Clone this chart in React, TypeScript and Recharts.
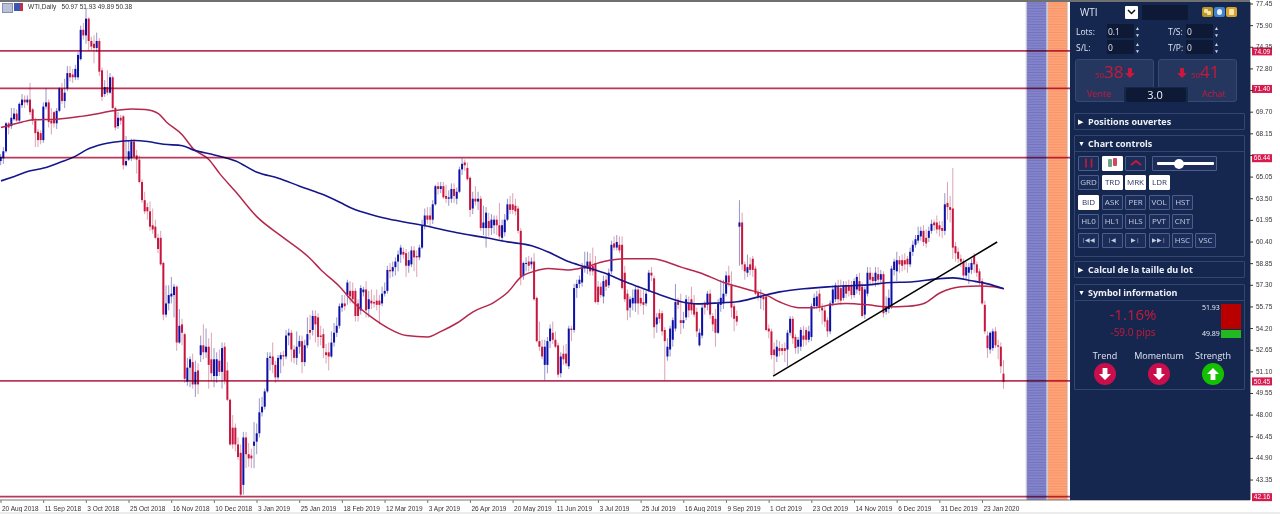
import {
  Bar,
  ComposedChart,
  Line,
  ReferenceArea,
  ReferenceLine,
  XAxis,
  YAxis,
} from "recharts";

const opens = [
  66.2,66.4,66.9,68.9,68.7,69.2,69.6,69.1,70.2,70.6,
  70.4,70.6,69.9,69.1,68.3,68.2,67.7,70.1,70.4,69.1,
  69.7,68.9,69.8,71.4,70.5,71.4,72.5,72.4,72.2,72.2,
  73.5,75.6,75.2,76.4,74.8,74.6,74.3,74.8,72.7,71.0,
  71.5,71.1,72.2,70.0,68.7,69.3,69.4,65.9,66.3,66.4,
  67.6,66.6,66.3,64.7,63.4,62.9,62.6,61.6,61.5,60.7,
  60.7,58.9,55.2,56.0,56.5,56.6,57.2,53.2,54.5,53.8,
  50.4,51.4,51.8,50.2,51.2,52.3,53.0,52.5,52.9,52.0,
  50.8,50.8,51.9,51.1,52.9,51.2,49.1,47.1,47.1,45.9,
  45.3,43.0,46.4,45.2,45.1,45.8,46.1,46.7,48.2,48.6,
  49.7,52.1,52.2,51.6,50.7,52.0,52.3,52.2,53.7,53.9,
  52.7,52.1,52.9,53.3,51.8,53.0,54.1,54.1,55.1,55.0,
  53.7,53.8,52.5,52.5,52.2,53.2,53.9,54.4,55.7,56.0,
  56.6,56.9,56.9,56.9,56.0,55.5,56.8,57.0,55.6,56.2,
  56.1,56.2,56.2,56.0,56.7,56.9,58.4,58.3,58.6,59.0,
  59.5,59.7,59.6,58.7,58.8,59.8,59.4,59.3,60.0,61.6,
  62.3,62.3,62.0,63.1,64.4,64.2,64.4,63.7,63.5,63.5,
  64.2,63.5,64.0,65.6,66.1,65.7,65.0,62.8,63.5,63.3,
  63.5,61.4,61.4,61.9,61.4,61.6,62.0,61.6,60.7,61.1,
  62.0,63.1,63.1,63.0,62.8,61.2,58.0,58.9,59.0,58.8,
  59.0,56.4,53.3,52.9,51.6,51.6,53.3,53.9,53.4,53.0,
  51.0,52.4,52.4,51.5,54.2,54.1,57.1,57.4,57.5,58.5,
  58.5,59.0,58.7,58.9,57.2,57.2,56.5,57.7,57.3,58.3,
  60.3,60.0,60.2,60.2,58.2,56.7,55.7,56.0,56.0,57.0,
  56.4,56.1,56.0,56.9,58.2,57.8,54.5,55.3,55.3,54.1,
  52.2,52.7,53.4,54.2,56.1,54.8,54.6,55.0,56.0,56.3,
  56.0,55.4,53.0,53.7,56.0,55.9,56.7,55.1,54.9,53.9,
  55.9,56.0,56.7,58.0,57.3,55.8,55.1,61.5,61.8,58.8,
  58.2,58.8,59.2,58.5,56.8,56.4,56.5,56.5,54.2,54.0,
  52.7,52.2,52.8,52.8,52.8,52.7,53.9,54.9,53.6,52.9,
  52.9,53.7,54.1,53.4,53.6,55.8,55.8,56.7,55.7,55.5,
  54.8,54.0,56.0,56.3,57.2,57.1,56.4,57.3,57.3,57.3,
  56.6,57.0,57.6,57.2,55.2,56.7,58.2,57.9,57.6,58.1,
  57.7,58.1,55.4,55.6,55.8,58.4,58.3,59.1,59.1,59.1,
  59.2,58.8,59.7,60.2,60.5,60.8,61.2,60.7,60.7,61.2,
  61.8,61.8,61.6,61.4,61.2,63.2,62.9,62.8,60.1,59.7,
  59.2,59.0,58.0,58.2,58.4,59.4,58.8,58.3,57.6,55.9,
  53.7,52.7,52.8,54.0,53.0,52.9,50.97,
];

const closes = [
  66.5,66.9,68.9,68.6,69.3,69.6,69.1,70.3,70.6,70.4,
  70.6,69.7,69.1,68.2,67.7,67.7,70.1,70.4,69.0,68.9,
  68.9,69.8,71.4,70.5,71.1,72.5,72.2,72.2,72.8,73.8,
  75.6,75.2,76.4,74.8,74.4,74.3,74.8,72.6,70.8,71.5,
  71.1,72.2,70.0,68.6,69.3,69.1,65.9,66.2,66.9,67.6,
  66.5,66.3,64.7,63.4,62.6,62.6,61.5,61.3,60.7,59.9,
  58.8,55.2,56.0,56.6,56.7,57.2,53.2,54.4,53.9,50.6,
  51.4,52.0,50.2,51.1,50.2,53.0,52.5,52.9,51.6,51.0,
  52.0,52.0,51.1,52.8,50.5,49.1,45.9,45.9,45.9,45.0,
  42.3,46.4,45.2,44.9,44.9,46.1,46.7,48.2,48.6,49.7,
  52.1,52.2,51.6,50.7,52.1,52.3,52.2,53.7,53.9,52.7,
  52.1,52.9,53.3,51.8,53.0,53.8,53.9,55.1,54.5,53.6,
  53.6,52.8,52.3,52.2,53.2,53.9,54.4,55.8,56.0,55.8,
  57.5,56.5,56.3,55.1,55.1,57.1,57.0,55.5,56.3,56.0,
  56.0,55.9,55.9,56.7,56.9,58.4,58.3,58.6,59.0,59.5,
  60.0,59.5,58.7,59.1,59.8,59.3,59.3,60.0,61.6,62.3,
  62.0,62.0,63.1,64.4,64.2,64.4,63.6,63.5,63.6,64.2,
  63.7,64.0,65.6,66.0,65.9,64.9,62.7,63.5,63.3,63.5,
  61.4,61.8,62.5,61.4,62.0,62.0,61.6,60.8,61.6,62.0,
  63.1,62.7,62.7,62.6,61.2,57.9,58.9,58.9,58.7,59.0,
  56.3,53.3,52.9,52.2,52.9,53.3,54.2,53.4,52.9,50.9,
  52.2,52.0,51.7,54.2,54.1,57.1,57.4,57.7,58.6,58.7,
  59.0,58.3,58.3,56.1,56.1,56.6,57.6,57.2,58.2,60.2,
  60.0,60.4,59.8,57.1,56.3,55.5,56.3,56.4,57.0,56.0,
  56.0,55.9,56.7,58.2,58.0,54.3,55.0,54.9,54.0,53.3,
  52.9,54.2,54.8,56.1,55.9,54.6,54.8,56.3,55.5,55.5,
  55.2,54.0,53.9,55.7,55.7,56.7,55.2,54.5,53.9,56.0,
  56.4,56.7,58.0,57.5,55.7,54.9,54.7,61.8,58.8,58.3,
  58.6,58.4,58.4,56.7,56.5,56.5,56.3,54.1,54.0,52.3,
  52.3,52.9,52.6,52.6,52.6,53.9,54.9,53.5,52.8,53.4,
  54.1,53.4,53.4,54.0,55.8,56.4,56.5,55.7,55.5,54.7,
  54.0,56.0,57.0,57.3,56.3,56.2,57.3,56.7,56.9,56.6,
  57.6,57.9,56.9,55.1,57.0,58.2,57.7,57.6,58.2,57.7,
  58.1,55.3,55.8,56.4,58.5,59.0,59.1,58.8,58.7,58.8,
  58.8,59.7,60.2,60.6,60.9,61.2,60.4,60.3,61.2,61.7,
  61.6,61.3,61.3,61.2,63.1,62.9,62.7,60.0,59.6,59.2,
  59.0,58.0,58.6,58.6,58.9,58.8,58.2,57.6,56.0,54.0,
  52.8,53.9,54.0,53.0,52.9,51.5,50.38,
];

const highs = [
  66.7,67.2,69.0,69.0,70.0,70.0,69.9,70.4,71.0,70.9,
  70.9,71.8,70.0,69.3,68.5,68.4,70.4,71.4,70.6,70.0,
  69.8,70.0,71.5,71.8,72.1,73.0,73.0,72.8,73.1,74.0,
  75.9,76.1,77.1,76.5,75.1,75.2,75.4,75.0,72.9,72.0,
  72.7,72.5,72.3,70.1,69.7,69.5,69.5,68.0,67.7,67.8,
  67.8,67.0,66.6,64.9,64.0,63.2,63.3,62.8,62.0,61.0,
  61.2,59.0,57.3,57.3,57.9,57.4,57.3,55.6,54.9,53.9,
  52.1,52.2,52.4,51.9,51.7,53.7,54.5,54.2,53.5,53.9,
  52.8,52.5,52.7,53.2,53.2,51.8,49.2,48.0,47.4,46.4,
  45.9,46.8,46.8,46.0,45.6,47.5,47.4,49.2,49.3,49.9,
  52.5,52.5,53.2,51.9,52.3,52.5,52.6,54.1,54.2,54.1,
  53.0,54.0,53.7,53.7,53.4,55.0,55.2,55.5,55.5,55.3,
  54.4,54.2,53.1,53.2,54.0,54.6,55.0,56.0,56.6,56.6,
  57.7,57.6,57.5,57.1,56.3,57.3,57.2,57.6,56.9,57.0,
  56.6,57.0,56.6,57.2,57.5,58.7,58.9,59.0,59.3,59.8,
  60.2,60.0,59.9,59.7,60.1,60.1,59.8,60.2,62.0,62.8,
  62.9,62.9,63.4,64.5,64.7,64.7,64.7,64.5,64.1,64.6,
  64.6,64.3,65.8,66.4,66.3,66.1,65.1,64.0,64.4,64.0,
  63.7,63.0,62.9,62.5,62.4,62.3,62.3,63.2,62.0,62.4,
  63.5,63.7,63.9,63.5,63.0,61.4,59.0,59.3,59.4,59.3,
  59.6,56.5,54.7,53.4,53.4,53.6,54.5,54.7,54.0,53.2,
  52.5,53.0,53.1,54.4,54.4,57.4,57.7,58.0,58.9,59.7,
  59.7,59.6,60.0,59.4,57.6,57.5,58.0,58.0,58.5,60.5,
  60.8,60.9,60.8,60.8,58.7,57.0,56.5,57.0,57.2,57.3,
  57.0,57.0,56.9,58.4,58.6,58.0,55.3,55.6,55.5,54.3,
  53.5,54.4,55.0,57.4,56.4,56.7,55.4,56.6,56.5,57.2,
  56.6,55.7,54.2,56.0,56.2,56.9,57.0,55.3,55.6,56.3,
  57.7,57.7,58.3,58.7,58.3,56.0,55.5,63.4,62.5,59.0,
  59.5,59.3,59.4,58.7,57.0,57.0,56.7,56.7,54.5,54.2,
  53.2,53.4,53.3,53.1,53.2,54.1,55.1,55.1,53.8,53.6,
  54.3,54.4,54.3,54.4,56.0,56.7,56.9,57.0,56.0,55.8,
  55.0,56.2,57.3,57.5,57.7,57.7,57.6,57.6,57.7,57.6,
  57.8,58.1,58.2,57.5,57.2,58.6,58.6,58.2,58.6,58.6,
  58.4,58.3,56.5,57.0,58.7,59.2,59.7,59.4,59.5,59.6,
  59.4,60.0,60.5,60.9,61.5,61.5,61.6,61.3,61.5,62.0,
  62.0,62.3,61.9,61.9,63.9,64.7,63.7,65.7,60.4,60.0,
  59.5,59.2,59.0,58.9,59.2,59.6,59.0,58.5,57.8,56.2,
  54.0,54.0,54.2,54.3,53.4,53.2,51.93,
];

const lows = [
  65.9,66.0,66.8,68.1,68.5,69.1,69.0,69.0,70.0,70.0,
  70.2,69.5,68.8,67.2,67.2,67.4,67.5,69.9,68.6,68.1,
  68.6,68.5,69.7,70.3,70.0,71.2,71.9,71.8,72.0,72.0,
  73.4,74.9,74.6,74.1,74.1,73.2,74.0,72.3,70.5,70.8,
  70.9,71.0,69.9,68.4,68.5,68.8,65.6,65.8,66.2,66.2,
  66.3,65.3,64.6,63.2,62.4,62.0,61.2,61.0,60.6,59.6,
  58.7,54.8,55.0,55.5,56.0,55.0,52.6,53.1,53.0,50.3,
  50.1,50.0,49.9,49.3,49.5,51.8,52.0,52.1,49.9,50.4,
  50.0,50.3,50.8,49.9,50.2,49.0,45.8,45.6,45.4,44.8,
  42.2,42.3,44.2,44.3,44.2,44.2,45.2,46.4,47.9,48.4,
  49.6,51.2,51.0,50.3,50.5,51.0,51.5,52.0,53.0,51.8,
  51.7,51.6,52.4,51.0,51.5,52.8,53.4,53.7,53.2,52.9,
  53.0,52.1,51.7,51.2,52.1,52.9,53.6,54.2,55.4,55.5,
  55.9,56.0,56.0,54.7,54.7,55.2,56.5,55.0,55.0,55.6,
  55.7,55.5,54.5,55.8,56.5,56.7,57.8,57.9,58.0,58.3,
  58.9,59.2,57.9,58.2,58.6,58.3,57.9,59.1,59.9,61.3,
  61.7,61.5,61.7,63.0,63.8,63.9,63.5,63.2,63.0,63.2,
  63.2,63.1,63.9,65.2,65.5,64.8,62.2,62.4,63.0,62.7,
  61.2,60.9,60.0,60.8,60.9,61.0,60.9,60.6,60.4,60.8,
  61.9,62.4,62.4,62.3,61.0,57.3,57.7,58.3,58.3,58.5,
  56.2,53.2,52.6,52.0,50.5,51.0,52.8,53.1,52.8,50.7,
  50.7,51.6,51.5,51.3,53.3,53.9,56.4,57.1,57.2,58.2,
  58.1,58.0,58.0,56.0,55.9,56.4,56.0,56.9,57.1,58.1,
  59.8,59.8,59.6,57.0,56.1,54.8,55.0,55.5,55.4,55.2,
  55.8,55.2,55.8,56.8,57.6,53.5,53.9,54.6,53.7,50.5,
  51.9,52.2,52.9,54.0,55.6,53.8,54.2,54.8,55.0,55.2,
  55.0,53.6,52.9,53.5,55.2,55.5,54.9,54.0,52.9,53.8,
  55.4,55.6,56.5,57.2,55.0,54.0,54.4,58.7,58.4,57.7,
  57.9,58.0,57.9,56.6,56.2,55.6,55.5,54.0,53.5,52.0,
  50.9,51.8,52.2,52.3,51.8,51.5,53.7,53.1,52.4,52.4,
  52.6,52.9,53.0,53.2,53.3,55.6,55.6,55.4,54.5,54.3,
  53.6,53.8,55.8,56.1,56.0,55.9,56.2,56.4,56.5,56.3,
  56.4,56.7,56.6,55.0,54.9,56.5,57.4,57.3,57.2,57.3,
  57.4,55.0,55.2,55.3,55.6,58.0,57.6,58.2,58.3,58.4,
  58.2,58.6,59.4,60.0,60.3,60.5,60.1,60.0,60.4,61.0,
  61.2,61.0,60.8,60.7,60.9,62.0,61.8,59.2,59.0,58.9,
  58.6,57.8,57.7,57.4,58.1,58.2,57.9,57.3,55.9,53.8,
  52.1,52.4,52.6,52.8,52.0,51.0,49.89,
];

// moving averages, read at the bars where the curve bends
const maRedBars = [0,4,8,12,21,30,35,42,49,54,59,62,68,72,78,82,88,96,106,116,120,127,132,139,145,152,160,165,171,177,185,190,195,200,205,213,219,226,234,244,255,262,271,280,287,292,299,305,311,317,325,332,340,346,352,360,367,372,376];
const maRedValues = [68.6,68.8,69.0,69.15,69.2,69.4,69.55,69.8,69.93,69.9,69.6,69.0,68.07,67.1,66.3,65.3,64.0,62.2,60.7,59.2,58.4,57.2,56.1,55.0,54.25,53.7,53.6,54.0,54.6,55.4,56.1,56.8,57.9,58.3,58.5,58.4,58.6,59.0,59.2,59.2,58.6,58.2,57.5,57.0,56.6,56.1,55.7,55.7,55.9,56.0,55.9,55.75,55.8,56.0,56.75,57.2,57.25,57.2,57.05];
const maBlueBars = [0,5,11,16,22,28,32,38,42,50,55,61,68,72,80,88,96,104,112,120,127,132,139,145,159,171,182,190,199,205,213,219,226,234,240,247,255,261,270,276,284,292,301,310,317,325,332,342,351,357,364,370,376];
const maBlueValues = [64.78,65.1,65.5,65.7,66.1,66.55,67.0,67.4,67.55,67.67,67.6,67.4,67.3,67.0,66.64,66.2,65.4,64.97,64.4,63.85,63.25,62.78,62.35,62.06,61.56,61.06,60.7,60.41,60.13,59.7,58.98,58.62,58.19,57.55,57.12,56.62,56.12,55.97,56.05,56.12,56.47,56.83,57.05,57.19,57.26,57.33,57.48,57.55,57.76,57.83,57.62,57.4,57.05];

const dateLabels = ["20 Aug 2018","11 Sep 2018","3 Oct 2018","25 Oct 2018","16 Nov 2018","10 Dec 2018","3 Jan 2019","25 Jan 2019","18 Feb 2019","12 Mar 2019","3 Apr 2019","26 Apr 2019","20 May 2019","11 Jun 2019","3 Jul 2019","25 Jul 2019","16 Aug 2019","9 Sep 2019","1 Oct 2019","23 Oct 2019","14 Nov 2019","6 Dec 2019","31 Dec 2019","23 Jan 2020"];
const dateTicks = dateLabels.map((_, i) => i * 16);
const priceTicks = [77.45,75.9,74.35,72.8,71.25,69.7,68.15,66.6,65.05,63.5,61.95,60.4,58.85,57.3,55.75,54.2,52.65,51.1,49.55,48.0,46.45,44.9,43.35];
// these tick labels sit fully behind a level badge in the reference
const hiddenPriceLabels = [71.25, 66.6];
const levels = [74.09, 71.4, 66.44, 50.45, 42.16];

const chartData = opens.map((open, i) => {
  const r = maRedBars.indexOf(i);
  const b = maBlueBars.indexOf(i);
  return {
    bar: i,
    range: [lows[i], highs[i]],
    open,
    close: closes[i],
    maRed: r >= 0 ? maRedValues[r] : null,
    maBlue: b >= 0 ? maBlueValues[b] : null,
  };
});

const AXIS_FONT = "'Liberation Sans', Arial, sans-serif";
const AXIS_SIZE = 6.5;
const PANEL_FONT = "'Open Sans', sans-serif";
const LINE_RED = "#b8375a";
const PANEL_BG = "#16274f";
const PANEL_DARK = "#0e1936";
const BORDER = "#33466f";
const TEXT_RED = "#c8193c";

const Candle = (props: any) => {
  const { x, y, width, height, payload } = props;
  const [low, high] = payload.range;
  const up = payload.close >= payload.open;
  const perUnit = Math.abs(height) / (high - low);
  const top = y + (high - Math.max(payload.open, payload.close)) * perUnit;
  const h = Math.max(Math.abs(payload.open - payload.close) * perUnit, 1);
  const cx = x + width / 2;
  return (
    <g>
      <line x1={cx} x2={cx} y1={y} y2={y + Math.abs(height)} stroke={up ? "#8a8ac4" : "#d998aa"} strokeWidth={0.9} />
      <rect x={cx - 1} y={top} width={2} height={h} fill={up ? "#0d10a8" : "#c9163f"} />
    </g>
  );
};

const DateTick = ({ x, y, payload }: any) => (
  <text x={x + 1} y={y + 6} fontSize={AXIS_SIZE} fontFamily={AXIS_FONT} fill="#333">
    {dateLabels[payload.value / 16]}
  </text>
);

const PriceTick = ({ x, y, payload }: any) =>
  hiddenPriceLabels.includes(payload.value) ? null : (
    <text x={x + 1} y={y + 2} fontSize={AXIS_SIZE} fontFamily={AXIS_FONT} fill="#333">
      {payload.value.toFixed(2)}
    </text>
  );

const LevelBadge = ({ viewBox, value }: any) => (
  <g>
    <rect x={viewBox.x + viewBox.width + 2} y={viewBox.y - 3.5} width={20} height={8} fill="#d81b4f" />
    <text x={viewBox.x + viewBox.width + 12} y={viewBox.y + 2.7} textAnchor="middle" fontSize={AXIS_SIZE} fontFamily={AXIS_FONT} fill="#fff">
      {value}
    </text>
  </g>
);

const Arrow = ({ x, y, size, color, up }: any) => (
  <svg style={{ position: "absolute", left: x, top: y }} width={size} height={size} viewBox="0 0 10 10">
    <polygon points={up ? "5,0 10,5 7,5 7,10 3,10 3,5 0,5" : "5,10 10,5 7,5 7,0 3,0 3,5 0,5"} fill={color} />
  </svg>
);

const Glyph = ({ x, y, w, h, path, color, width = 1.5 }: any) => (
  <svg style={{ position: "absolute", left: x, top: y }} width={w} height={h} viewBox={`0 0 ${w} ${h}`}>
    <path d={path} fill="none" stroke={color} strokeWidth={width} />
  </svg>
);

const Txt = ({ x, y, size = 9, color = "#dfe5f2", bold, anchor, children }: any) => (
  <div
    style={{
      position: "absolute",
      left: anchor === "middle" ? x - 60 : x,
      width: anchor === "middle" ? 120 : undefined,
      top: y - size,
      height: size * 2,
      lineHeight: `${size * 2}px`,
      textAlign: anchor === "middle" ? "center" : "left",
      fontSize: size,
      fontWeight: bold ? 700 : 400,
      color,
      whiteSpace: "nowrap",
    }}
  >
    {children}
  </div>
);

const Box = ({ x, y, w, h, bg, border, radius = 1 }: any) => (
  <div
    style={{
      position: "absolute",
      left: x,
      top: y,
      width: w,
      height: h,
      boxSizing: "border-box",
      background: bg,
      border: border ? `1px solid ${border}` : undefined,
      borderRadius: radius,
    }}
  />
);

const Btn = ({ x, y, w = 21, label, on, size = 8 }: any) => (
  <>
    <Box x={x} y={y} w={w} h={14.5} bg={on ? "#ffffff" : "#1b2d58"} border={on ? "#fff" : "#4a5f8c"} />
    {label && (
      <Txt x={x + w / 2} y={y + 7} size={size} anchor="middle" color={on ? "#27365c" : "#c3cde0"}>
        {label}
      </Txt>
    )}
  </>
);

const Spinner = ({ x, y }: any) => (
  <>
    <Txt x={x} y={y - 3.5} size={5} color="#cfd6e6">▲</Txt>
    <Txt x={x} y={y + 3.5} size={5} color="#cfd6e6">▼</Txt>
  </>
);

const Section = ({ y, h, title, open }: any) => (
  <>
    <Box x={1074} y={y} w={171} h={h} border={BORDER} />
    <Txt x={1078} y={y + 8.5} size={7} color="#fff">{open ? "▼" : "▶"}</Txt>
    <Txt x={1088} y={y + 8.5} size={9} bold color="#eef1f8">{title}</Txt>
    {open && <Box x={1074} y={y + 16} w={171} h={1} bg={BORDER} />}
  </>
);

const row3 = ["BID", "ASK", "PER", "VOL", "HST"];
const row4 = ["HL0", "HL1", "HLS", "PVT", "CNT"];
const row5 = ["|◀◀", "|◀", "▶|", "▶▶|"];
const row5b = ["HSC", "VSC"];
const btnX = [1078, 1101.5, 1125, 1148.5, 1172, 1195];

const Panel = () => (
  <div style={{ position: "absolute", left: 1070, top: 2, width: 180, height: 498, background: PANEL_BG }}>
    <div style={{ position: "absolute", left: -1070, top: -2, fontFamily: PANEL_FONT }}>
      <Txt x={1080} y={12} size={10}>WTI</Txt>
      <Box x={1125} y={6} w={13} h={13} bg="#fff" />
      <Glyph x={1127} y={9} w={9} h={6} path="M1 1 L4.5 4.5 L8 1" color="#111" />
      <Box x={1142} y={5} w={46} h={15} bg={PANEL_DARK} />
      <Box x={1202} y={6.5} w={10.5} h={10.5} bg="#b8962a" radius={2} />
      <Box x={1204} y={8.5} w={4} h={4} bg="#f4e2a0" />
      <Box x={1207} y={11} w={4} h={4} bg="#f4e2a0" />
      <Box x={1214} y={6.5} w={10.5} h={10.5} bg="#3f83c8" radius={2} />
      <Box x={1216.5} y={9} w={5.5} h={5.5} bg="#e6f0fa" radius={3} />
      <Box x={1226} y={6.5} w={11} h={10.5} bg="#d8a430" radius={2} />
      <Box x={1229} y={9} w={5} h={5.5} bg="#f7e6b0" />

      <Txt x={1076} y={31} size={8.5}>Lots:</Txt>
      <Box x={1107} y={24} w={27} h={14} bg={PANEL_DARK} />
      <Txt x={1108} y={31} size={8.5}>0.1</Txt>
      <Spinner x={1135} y={31} />
      <Txt x={1076} y={47} size={8.5}>S/L:</Txt>
      <Box x={1107} y={40} w={27} h={14} bg={PANEL_DARK} />
      <Txt x={1108} y={47} size={8.5}>0</Txt>
      <Spinner x={1135} y={47} />
      <Txt x={1168} y={31} size={8.5}>T/S:</Txt>
      <Box x={1186} y={24} w={27} h={14} bg={PANEL_DARK} />
      <Txt x={1187} y={31} size={8.5}>0</Txt>
      <Spinner x={1214} y={31} />
      <Txt x={1168} y={47} size={8.5}>T/P:</Txt>
      <Box x={1186} y={40} w={27} h={14} bg={PANEL_DARK} />
      <Txt x={1187} y={47} size={8.5}>0</Txt>
      <Spinner x={1214} y={47} />

      <Box x={1075} y={59} w={79} h={43} bg="#26375f" border="#37496f" radius={3} />
      <Box x={1158} y={59} w={79} h={43} bg="#26375f" border="#37496f" radius={3} />
      <Txt x={1095} y={75} size={8} color={TEXT_RED}>50.</Txt>
      <Txt x={1104} y={72} size={17} color={TEXT_RED}>38</Txt>
      <Arrow x={1125} y={68} size={10} color={TEXT_RED} />
      <Arrow x={1177} y={68} size={10} color={TEXT_RED} />
      <Txt x={1191} y={75} size={8} color={TEXT_RED}>50.</Txt>
      <Txt x={1200} y={72} size={17} color={TEXT_RED}>41</Txt>
      <Txt x={1087} y={94} size={9} color={TEXT_RED}>Vente</Txt>
      <Txt x={1202} y={94} size={9} color={TEXT_RED}>Achat</Txt>
      <Box x={1124} y={87} w={64} h={16} bg={PANEL_BG} />
      <Box x={1126} y={88} w={60} h={14} bg={PANEL_DARK} radius={2} />
      <Txt x={1155} y={95} size={11} anchor="middle" color="#eef1f8">3.0</Txt>

      <Section y={113} h={17} title="Positions ouvertes" />
      <Section y={135} h={122} title="Chart controls" open />

      <Btn x={1078} y={156} />
      <Glyph x={1083} y={157} w={12} h={12} path="M3 1.5 V10.5 M8.5 1.5 V10.5" color={TEXT_RED} width={1.6} />
      <Btn x={1102} y={156} on />
      <Box x={1108} y={159} w={3.5} h={8} bg="#6fa586" />
      <Box x={1113} y={158} w={3.5} h={8} bg="#d0485f" />
      <Btn x={1125} y={156} />
      <Glyph x={1130} y={159} w={12} h={8} path="M1 6 L6 2 L11 6" color={TEXT_RED} width={2} />
      <Box x={1152} y={156} w={65} h={15} bg="#1b2d58" border="#4a5f8c" />
      <Box x={1157} y={161.5} w={57} h={3} bg="#fff" />
      <Box x={1174} y={158.5} w={10} h={10} bg="#fff" radius={5} />

      <Btn x={1078} y={175} label="GRD" />
      <Btn x={1102} y={175} label="TRD" on />
      <Btn x={1125} y={175} label="MRK" on />
      <Btn x={1149} y={175} label="LDR" on />

      {row3.map((l, i) => <Btn key={l} x={btnX[i]} y={195} label={l} on={i === 0} />)}
      {row4.map((l, i) => <Btn key={l} x={btnX[i]} y={214} label={l} />)}
      {row5.map((l, i) => <Btn key={l} x={btnX[i]} y={233} label={l} size={6} />)}
      {row5b.map((l, i) => <Btn key={l} x={btnX[i + 4]} y={233} label={l} />)}

      <Section y={261} h={17} title="Calcul de la taille du lot" />
      <Section y={284} h={106} title="Symbol information" open />

      <Txt x={1133} y={314} size={15} anchor="middle" color={TEXT_RED}>-1.16%</Txt>
      <Txt x={1133} y={332} size={10} anchor="middle" color={TEXT_RED}>-59.0 pips</Txt>
      <Txt x={1202} y={308} size={7} color="#eef1f8">51.93</Txt>
      <Txt x={1202} y={334} size={7} color="#eef1f8">49.89</Txt>
      <Box x={1221} y={304} w={20} h={25} bg="#b80000" radius={0} />
      <Box x={1221} y={330} w={20} h={8} bg="#22b822" radius={0} />

      <Txt x={1105} y={356} size={9} anchor="middle">Trend</Txt>
      <Txt x={1159} y={356} size={9} anchor="middle">Momentum</Txt>
      <Txt x={1213} y={356} size={9} anchor="middle">Strength</Txt>
      <Box x={1094} y={363} w={22} h={22} bg="#c80f4b" radius={11} />
      <Box x={1148} y={363} w={22} h={22} bg="#c80f4b" radius={11} />
      <Box x={1202} y={363} w={22} h={22} bg="#14c100" radius={11} />
      <Arrow x={1099} y={368} size={12} color="#fff" />
      <Arrow x={1153} y={368} size={12} color="#fff" />
      <Arrow x={1207} y={368} size={12} color="#fff" up />
    </div>
  </div>
);

export default function App() {
  return (
    <div style={{ position: "absolute", left: 0, top: 0, width: 1280, height: 514, overflow: "hidden", background: "#fff" }}>
      <ComposedChart width={1280} height={514} data={chartData} margin={{ top: 2, right: 0, bottom: 0, left: 0 }}>
        <defs>
          <pattern id="stripeBlue" width={4} height={2.67} patternUnits="userSpaceOnUse">
            <rect width={4} height={2.67} fill="#8484cc" />
            <rect width={4} height={0.8} fill="#7070bc" />
          </pattern>
          <pattern id="stripeOrange" width={4} height={2.67} patternUnits="userSpaceOnUse">
            <rect width={4} height={2.67} fill="#ffa278" />
            <rect width={4} height={0.8} fill="#f49468" />
          </pattern>
        </defs>
        <XAxis
          dataKey="bar"
          type="number"
          domain={[-0.375, 468.3]}
          allowDataOverflow
          ticks={dateTicks}
          interval={0}
          height={14}
          tick={<DateTick />}
          tickSize={3}
          stroke="#777"
        />
        <YAxis
          orientation="right"
          type="number"
          domain={[41.92, 77.593]}
          allowDataOverflow
          ticks={priceTicks}
          interval={0}
          width={30}
          tickSize={3}
          stroke="#333"
          tick={<PriceTick />}
        />
        <ReferenceArea x1={384.2} x2={400} fill="#c9c9d6" fillOpacity={1} stroke="none" />
        <ReferenceArea x1={384.7} x2={391.9} fill="url(#stripeBlue)" fillOpacity={1} stroke="none" />
        <ReferenceArea x1={392.6} x2={399.7} fill="url(#stripeOrange)" fillOpacity={1} stroke="none" />
        <Bar dataKey="range" barSize={2} shape={<Candle />} isAnimationActive={false} />
        <Line dataKey="maRed" type="monotone" connectNulls dot={false} stroke="#b5284c" strokeWidth={1.5} isAnimationActive={false} />
        <Line dataKey="maBlue" type="monotone" connectNulls dot={false} stroke="#16168c" strokeWidth={1.6} isAnimationActive={false} />
        {levels.map((v) => (
          <ReferenceLine
            key={v}
            y={v}
            stroke={LINE_RED}
            strokeWidth={1.7}
            style={{ mixBlendMode: "multiply" }}
            label={<LevelBadge value={v.toFixed(2)} />}
          />
        ))}
        <ReferenceLine segment={[{ x: 289.5, y: 50.8 }, { x: 373.5, y: 60.4 }]} stroke="#000" strokeWidth={1.5} />
      </ComposedChart>
      <div style={{ position: "absolute", left: 0, top: 0, width: 1250, height: 2, background: "#707070" }} />
      <div style={{ position: "absolute", left: 0, top: 512, width: 1280, height: 2, background: "#ececec" }} />
      <Panel />
      <div style={{ position: "absolute", left: 2, top: 3, width: 9, height: 8, background: "#b9c0d8", border: "1px solid #8890b0" }} />
      <div style={{ position: "absolute", left: 14, top: 3, width: 9, height: 8, background: "#3b55b0", borderRight: "3px solid #c0304a", boxSizing: "border-box" }} />
      <div style={{ position: "absolute", left: 28, top: 2, fontFamily: AXIS_FONT, fontSize: AXIS_SIZE, lineHeight: "10px", color: "#333", whiteSpace: "pre" }}>
        WTI,Daily   50.97 51.93 49.89 50.38
      </div>
    </div>
  );
}
